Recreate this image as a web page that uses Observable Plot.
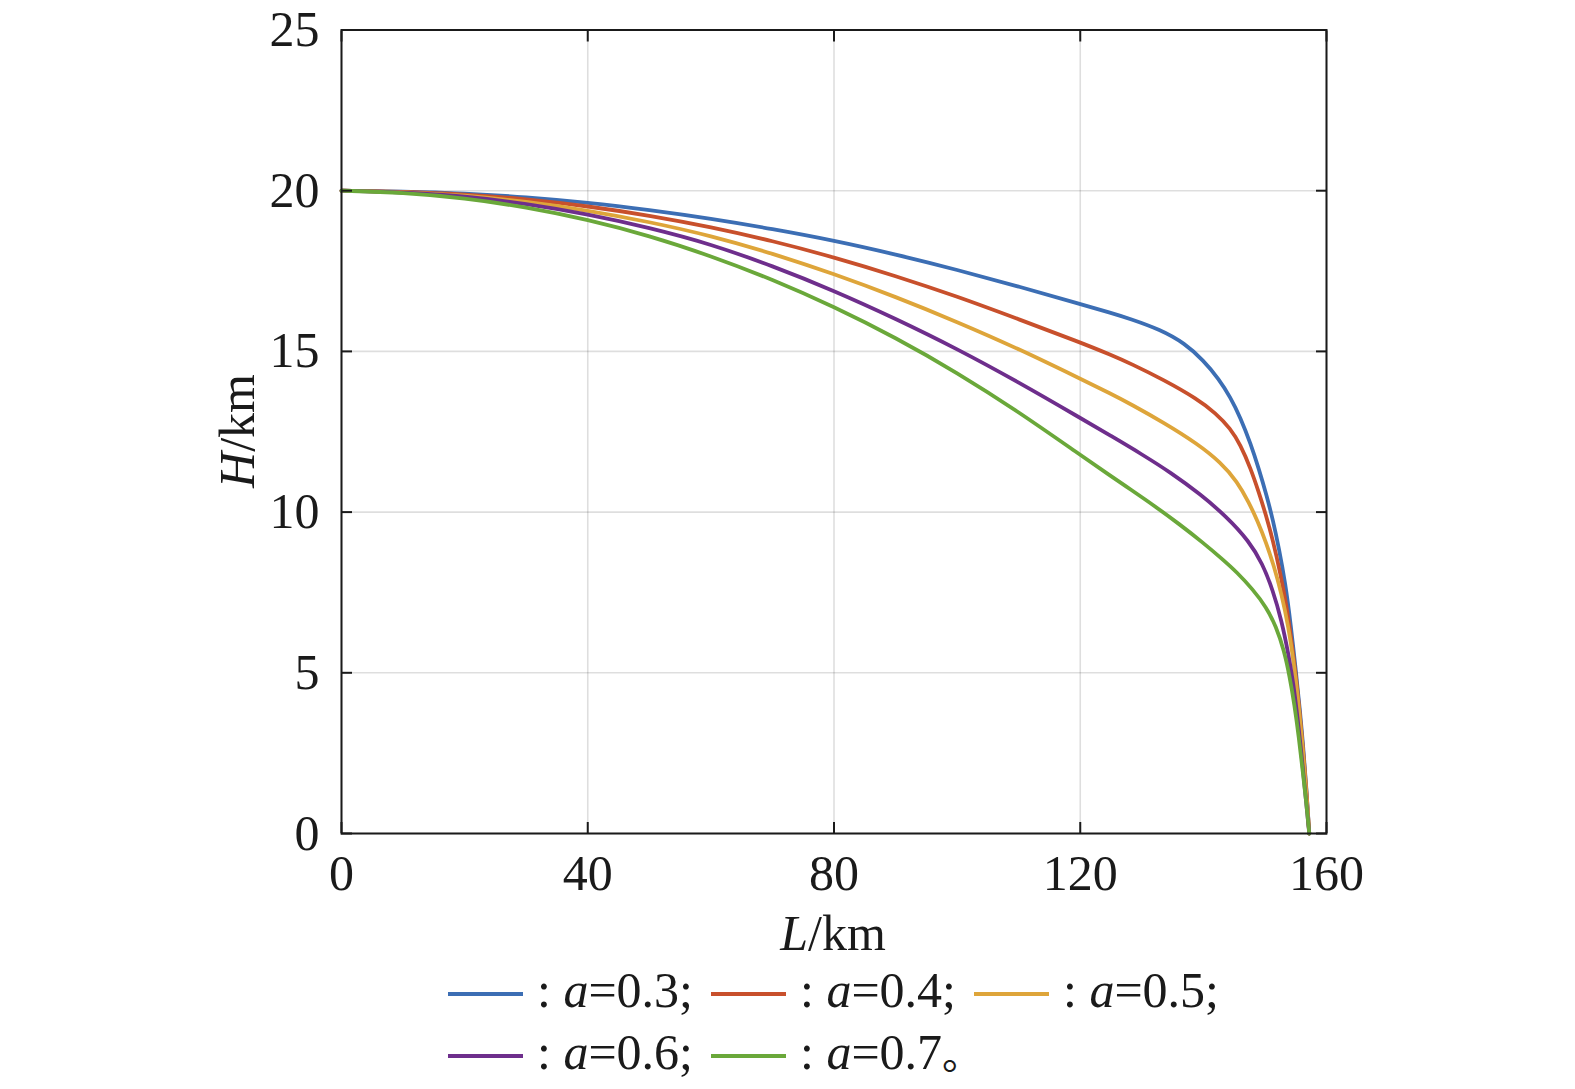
<!DOCTYPE html>
<html>
<head>
<meta charset="utf-8">
<script src="https://cdn.jsdelivr.net/npm/d3@7"></script>
<script src="https://cdn.jsdelivr.net/npm/@observablehq/plot@0.6"></script>
<style>
  html, body { margin: 0; padding: 0; background: #fff; overflow: hidden; }
  body { width: 1575px; height: 1089px; font-family: "Liberation Serif", "Times New Roman", "Noto Sans CJK SC", serif; color: #1a1a1a; }
  #chart svg { display: block; max-width: none !important; }
  #legend { margin-left: 448px; margin-top: -6px; font-size: 50px; }
  .row { display: flex; align-items: center; height: 62px; white-space: pre; }
  .sw { width: 75px; height: 4px; margin-right: 14px; margin-top: 8px; }
  .lab { margin-right: 18px; }
  .lab i { font-style: italic; }
  .cjk { font-family: "Noto Sans CJK SC", sans-serif; font-size: 40px; }
</style>
</head>
<body>
<div id="chart"></div>
<div id="legend"></div>
<script>
// ---- Data ----
const seriesNames = ["a=0.3", "a=0.4", "a=0.5", "a=0.6", "a=0.7"];
const aValues = ["0.3", "0.4", "0.5", "0.6", "0.7"];
const colors = ["#3c6eb4", "#c8502c", "#dea53a", "#6e2e8c", "#6aa83a"];

const L03 = [0, 10, 20, 30, 40, 50, 60, 70, 80, 90, 100, 110, 120, 125, 128, 133, 137, 140, 142.5, 144.4, 146, 147.7, 149, 150.3, 151.3, 152.3, 153.3, 154.2, 155.0, 155.7, 156.2, 156.7, 157.2];
const H03 = [20, 19.98, 19.92, 19.8, 19.63, 19.4, 19.13, 18.81, 18.45, 18.02, 17.54, 17.02, 16.47, 16.2, 16.02, 15.68, 15.25, 14.72, 14.15, 13.57, 12.95, 12.12, 11.35, 10.5, 9.75, 8.85, 7.8, 6.5, 5.1, 3.8, 2.75, 1.5, 0];

const L04 = [0, 10, 20, 30, 40, 50, 60, 70, 80, 90, 100, 110, 120, 125, 128.2, 133.6, 139, 142, 144.4, 146, 147.7, 149, 150.1, 151.3, 152.5, 153.5, 154.3, 155.0, 155.6, 156.2, 156.7, 157.2];
const H04 = [20, 19.97, 19.89, 19.74, 19.52, 19.23, 18.87, 18.44, 17.93, 17.35, 16.71, 16.0, 15.28, 14.89, 14.62, 14.11, 13.52, 13.08, 12.6, 12.1, 11.35, 10.62, 9.95, 9.12, 8.1, 7.1, 6.0, 4.97, 3.85, 2.6, 1.45, 0];

const L05 = [0, 10, 20, 30, 40, 50, 60, 70, 80, 90, 100, 110, 120, 125, 128.2, 133.6, 139, 142.8, 145.5, 147.4, 148.8, 150.2, 151.5, 152.7, 153.8, 154.7, 155.4, 156.0, 156.6, 157.2];
const H05 = [20, 19.96, 19.86, 19.66, 19.39, 19.03, 18.6, 18.05, 17.41, 16.7, 15.92, 15.08, 14.15, 13.68, 13.36, 12.78, 12.13, 11.55, 10.95, 10.3, 9.72, 9.05, 8.3, 7.45, 6.45, 5.3, 4.15, 2.95, 1.6, 0];

const L06 = [0, 10, 20, 30, 40, 50, 60, 70, 80, 90, 100, 110, 120, 125, 130, 134.7, 139.5, 143.8, 147.4, 149.6, 151.3, 152.7, 153.8, 154.6, 155.3, 155.9, 156.5, 157.2];
const H06 = [20, 19.95, 19.83, 19.6, 19.27, 18.85, 18.34, 17.66, 16.89, 16.02, 15.08, 14.04, 12.93, 12.37, 11.8, 11.23, 10.56, 9.85, 9.1, 8.4, 7.56, 6.63, 5.6, 4.7, 3.6, 2.55, 1.35, 0];

const L07 = [0, 10, 20, 30, 40, 50, 60, 70, 80, 90, 100, 110, 120, 125, 128.2, 132, 136, 140, 143, 145.5, 148, 150.2, 151.8, 153.1, 154.0, 154.8, 155.5, 156.1, 156.7, 157.2];
const H07 = [20, 19.94, 19.77, 19.49, 19.1, 18.6, 17.97, 17.24, 16.39, 15.43, 14.34, 13.12, 11.78, 11.12, 10.7, 10.2, 9.64, 9.04, 8.55, 8.12, 7.6, 7.05, 6.45, 5.7, 4.9, 4.0, 3.0, 2.0, 1.0, 0];

const xTicks = [0, 40, 80, 120, 160];
const yTicks = [0, 5, 10, 15, 20, 25];

const Ls = [L03, L04, L05, L06, L07];
const Hs = [H03, H04, H05, H06, H07];
const rows = [];
seriesNames.forEach((name, i) => {
  Ls[i].forEach((l, j) => rows.push({series: name, L: l, H: Hs[i][j]}));
});

const font = '"Liberation Serif", "Times New Roman", serif';
const ink = "#1a1a1a";

const plot = Plot.plot({
  width: 1575,
  height: 965,
  marginLeft: 341,
  marginRight: 249,
  marginTop: 29.5,
  marginBottom: 132,
  style: {fontFamily: font, fontSize: "50px", color: ink, background: "#fff"},
  x: {domain: [0, 160], ticks: xTicks, label: null},
  y: {domain: [0, 25], ticks: yTicks, label: null},
  color: {domain: seriesNames, range: colors},
  marks: [
    Plot.gridX(xTicks, {stroke: "#000", strokeOpacity: 0.13, strokeWidth: 1.6}),
    Plot.gridY(yTicks, {stroke: "#000", strokeOpacity: 0.13, strokeWidth: 1.6}),
    Plot.line(rows, {x: "L", y: "H", z: "series", stroke: "series", strokeWidth: 3.8, curve: "basis"}),
    Plot.frame({stroke: ink, strokeWidth: 2}),
    Plot.axisX(xTicks, {anchor: "bottom", tickSize: 0, tickPadding: 21, fontSize: 50, fill: ink}),
    Plot.axisY(yTicks, {anchor: "left", tickSize: 0, tickPadding: 22, fontSize: 50, fill: ink}),
    Plot.axisX(xTicks, {anchor: "bottom", tickSize: -11, text: null, stroke: ink, strokeWidth: 2}),
    Plot.axisX(xTicks, {anchor: "top", tickSize: -11, text: null, stroke: ink, strokeWidth: 2}),
    Plot.axisY(yTicks, {anchor: "left", tickSize: -11, text: null, stroke: ink, strokeWidth: 2}),
    Plot.axisY(yTicks, {anchor: "right", tickSize: -11, text: null, stroke: ink, strokeWidth: 2})
  ]
});
document.getElementById("chart").appendChild(plot);

// Axis titles with italic variable names
const svg = d3.select(plot);
const xl = svg.append("text")
  .attr("x", 833).attr("y", 950)
  .attr("text-anchor", "middle")
  .attr("font-family", font).attr("font-size", 50).attr("fill", ink);
xl.append("tspan").attr("font-style", "italic").text("L");
xl.append("tspan").text("/km");

const yl = svg.append("text")
  .attr("transform", "translate(254,431) rotate(-90)")
  .attr("text-anchor", "middle")
  .attr("font-family", font).attr("font-size", 50).attr("fill", ink);
yl.append("tspan").attr("font-style", "italic").text("H");
yl.append("tspan").text("/km");

// Legend below the chart
const legend = document.getElementById("legend");
const layout = [[0, 1, 2], [3, 4]];
layout.forEach(r => {
  const row = document.createElement("div");
  row.className = "row";
  r.forEach(i => {
    const sw = document.createElement("span");
    sw.className = "sw";
    sw.style.background = colors[i];
    const lab = document.createElement("span");
    lab.className = "lab";
    const end = i === 4 ? '<span class="cjk">\u3002</span>' : ";";
    lab.innerHTML = ": <i>a</i>=" + aValues[i] + end;
    row.appendChild(sw);
    row.appendChild(lab);
  });
  legend.appendChild(row);
});
</script>
</body>
</html>
